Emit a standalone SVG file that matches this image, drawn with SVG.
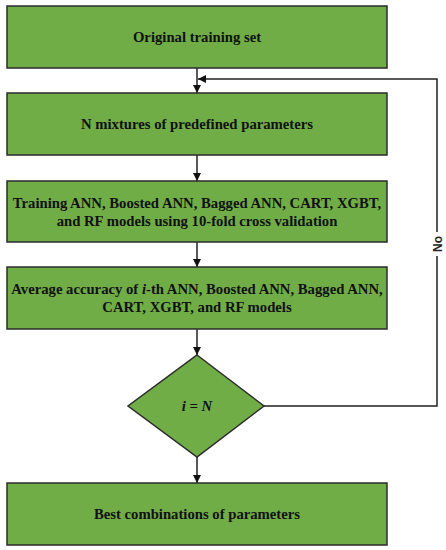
<svg xmlns="http://www.w3.org/2000/svg" width="446" height="550" viewBox="0 0 446 550">
<defs>
<style>
.box{fill:#70AD47;stroke:#2b2b2b;stroke-width:1.5}
.t{font-family:"Liberation Serif","Times New Roman",serif;font-weight:bold;font-size:14.7px;fill:#111;text-anchor:middle}
.c{fill:none;stroke:#222;stroke-width:1.5}
.lbl{font-family:"Liberation Sans",Arial,sans-serif;font-weight:bold;font-size:12px;fill:#222;text-anchor:middle}
</style>
<marker id="ah" viewBox="0 0 10 10" refX="10" refY="5" markerWidth="8" markerHeight="8" markerUnits="userSpaceOnUse" orient="auto">
<path d="M0,0 L10,5 L0,10 z" fill="#111"/>
</marker>
</defs>
<rect width="446" height="550" fill="#fff"/>
<g id="connectors">
<line class="c" x1="197" y1="68" x2="197" y2="93" marker-end="url(#ah)"/>
<line class="c" x1="197" y1="155" x2="197" y2="181" marker-end="url(#ah)"/>
<line class="c" x1="197" y1="242" x2="197" y2="267" marker-end="url(#ah)"/>
<line class="c" x1="197" y1="329" x2="197" y2="355" marker-end="url(#ah)"/>
<line class="c" x1="197" y1="457" x2="197" y2="483" marker-end="url(#ah)"/>
<polyline class="c" points="264,406 437,406 437,79 198,79" marker-end="url(#ah)"/>
<rect x="430" y="232" width="14" height="24" fill="#fff"/>
<text class="lbl" transform="translate(441.5,244) rotate(-90)">No</text>
</g>
<g id="n1"><rect class="box" x="7" y="6" width="380" height="62"/><text class="t" x="197" y="42">Original training set</text></g>
<g id="n2"><rect class="box" x="7" y="93" width="380" height="62"/><text class="t" x="197" y="129">N mixtures of predefined parameters</text></g>
<g id="n3"><rect class="box" x="7" y="181" width="380" height="61"/><text class="t" x="197" y="208">Training ANN, Boosted ANN, Bagged ANN, CART, XGBT,</text><text class="t" x="197" y="226">and RF models using 10-fold cross validation</text></g>
<g id="n4"><rect class="box" x="7" y="267" width="380" height="62"/><text class="t" x="197" y="294">Average accuracy of <tspan font-style="italic">i</tspan>-th ANN, Boosted ANN, Bagged ANN,</text><text class="t" x="197" y="312">CART, XGBT, and RF models</text></g>
<g id="n5"><polygon class="box" points="197,355 264,406 197,457 128,406"/><text class="t" x="197" y="411" font-style="italic">i = N</text></g>
<g id="n6"><rect class="box" x="7" y="483" width="380" height="62"/><text class="t" x="197" y="519">Best combinations of parameters</text></g>
</svg>
